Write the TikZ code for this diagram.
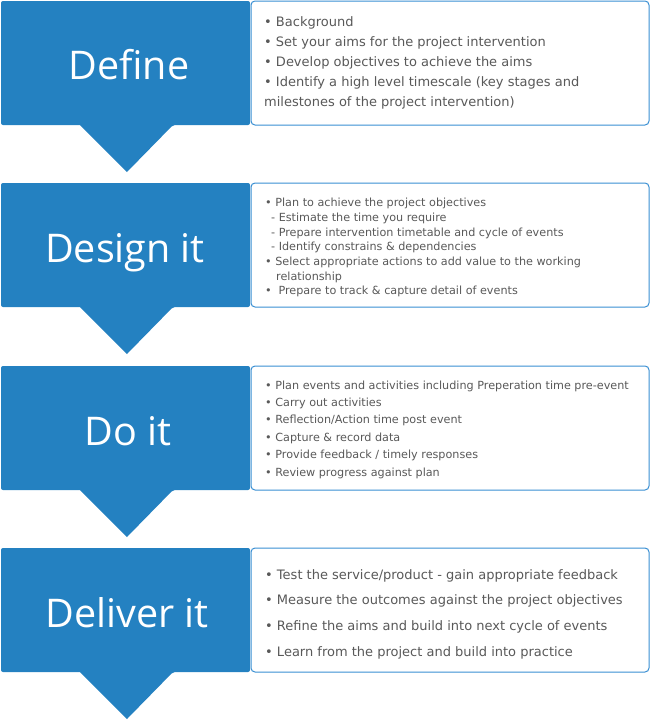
\documentclass[tikz,border=0pt]{standalone}
\usepackage{fontspec}
\setmainfont{DejaVu Sans}
\newfontfamily\headfont{Open Sans}
\definecolor{stepblue}{HTML}{2481C1}
\definecolor{boxline}{HTML}{3A8FD3}
\definecolor{bodygray}{HTML}{595959}
\tikzset{
  stagebox/.style={fill=stepblue, draw=none},
  infobox/.style={draw=boxline, line width=1pt, rounded corners=4pt, fill=white},
  headlabel/.style={anchor=base, text=white, inner sep=0pt, font=\headfont\fontsize{39.5}{48}\selectfont},
  bigtext/.style={anchor=base west, inner sep=0pt, text=bodygray, font=\fontsize{13.0}{16}\selectfont},
  smalltext/.style={anchor=base west, inner sep=0pt, text=bodygray, font=\fontsize{11.2}{14}\selectfont},
}
\begin{document}
\begin{tikzpicture}[x=1pt,y=-1pt]
\useasboundingbox (0,0) rectangle (650,720);
\fill[white] (0,0) rectangle (650,720);
% stage shapes
\foreach \T/\name in {1/defs,183/dess,366/dos,548/dels}{
  \draw[infobox] (251,\T) rectangle (649,\T+124);
  \fill[stagebox, rounded corners=2pt] (1,\T) -- (250,\T) -- (250,\T+124) -- (173,\T+124) [sharp corners] -- (127,\T+171) -- (80,\T+124) [rounded corners=2pt] -- (1,\T+124) -- cycle;
}
\node[headlabel] (hdefine) at (129,79) {Define};
\node[headlabel] (hdesign) at (125,262) {Design it};
\node[headlabel] (hdo) at (128,445) {Do it};
\node[headlabel] (hdeliver) at (127,627) {Deliver it};
% Define text
\foreach \x/\t [count=\i] in {264/{• Background},264/{• Set your aims for the project intervention},264/{• Develop objectives to achieve the aims},264/{• Identify a high level timescale (key stages and},264/{milestones of the project intervention)}}
  \node[bigtext, name=a\i] at (\x,{26.7+(\i-1)*20}) {\t};
% Design text
\foreach \x/\t [count=\i] in {265/{• Plan to achieve the project objectives},271/{- Estimate the time you require},271/{- Prepare intervention timetable and cycle of events},271/{- Identify constrains \& dependencies},265/{• Select appropriate actions to add value to the working},276/{relationship},265/{•\hspace{0.6em}Prepare to track \& capture detail of events}}
  \node[smalltext, name=b\i] at (\x,{206.7+(\i-1)*14.7}) {\t};
% Do text
\foreach \x/\t [count=\i] in {265/{• Plan events and activities including Preperation time pre-event},265/{• Carry out activities},265/{• Reflection/Action time post event},265/{• Capture \& record data},265/{• Provide feedback / timely responses},265/{• Review progress against plan}}
  \node[smalltext, name=c\i] at (\x,{389+(\i-1)*17.4}) {\t};
% Deliver text
\foreach \x/\t [count=\i] in {265/{• Test the service/product - gain appropriate feedback},265/{• Measure the outcomes against the project objectives},265/{• Refine the aims and build into next cycle of events},265/{• Learn from the project and build into practice}}
  \node[bigtext, name=d\i] at (\x,{579+(\i-1)*25.9}) {\t};
\end{tikzpicture}
\end{document}
